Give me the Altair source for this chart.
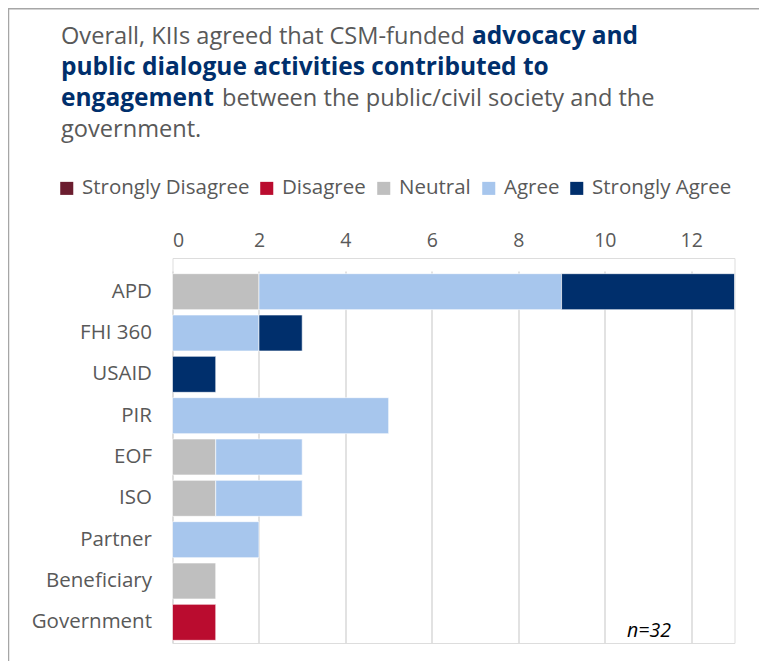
import altair as alt
import pandas as pd

categories = ["APD", "FHI 360", "USAID", "PIR", "EOF", "ISO", "Partner", "Beneficiary", "Government"]
levels = ["Strongly Disagree", "Disagree", "Neutral", "Agree", "Strongly Agree"]
colors = ["#6B1D2F", "#BA0C2F", "#BFBFBF", "#A7C6ED", "#002F6C"]

strongly_disagree = [0, 0, 0, 0, 0, 0, 0, 0, 0]
disagree = [0, 0, 0, 0, 0, 0, 0, 0, 1]
neutral = [2, 0, 0, 0, 1, 1, 0, 1, 0]
agree = [7, 2, 0, 5, 2, 2, 2, 0, 0]
strongly_agree = [4, 1, 1, 0, 0, 0, 0, 0, 0]

x_ticks = [0, 2, 4, 6, 8, 10, 12]

series = [strongly_disagree, disagree, neutral, agree, strongly_agree]
rows = []
for li, (lev, vals) in enumerate(zip(levels, series)):
    for c, v in zip(categories, vals):
        if v > 0:
            rows.append({"org": c, "level": lev, "count": v, "ord": li})
df = pd.DataFrame(rows)

FONT = "Open Sans"
GRAY = "#595959"
NAVY = "#002F6C"

W, H = 562, 385
PL, PT = 164.5, 250

bars = alt.Chart(df).mark_bar(stroke="#ffffff", strokeWidth=0.6).encode(
    y=alt.Y("org:N", sort=categories, title=None,
            scale=alt.Scale(domain=categories, range=[13, 385], paddingInner=0.13, paddingOuter=0.065),
            axis=alt.Axis(labelFontSize=20.5, labelColor=GRAY, labelPadding=21, ticks=False,
                          domain=False, grid=False, labelFont=FONT)),
    x=alt.X("sum(count):Q", title=None, stack="zero",
            scale=alt.Scale(domain=[0, 13], nice=False),
            axis=alt.Axis(orient="top", values=x_ticks, labelFontSize=19.5, labelColor=GRAY,
                          ticks=False, domain=False, grid=True, gridColor="#D9D9D9",
                          gridWidth=1.5, labelPadding=8, labelFont=FONT)),
    color=alt.Color("level:N", scale=alt.Scale(domain=levels, range=colors),
                    legend=alt.Legend(orient="none", direction="horizontal", title=None,
                                      legendX=-116, legendY=-80, symbolType="square",
                                      symbolSize=170, symbolStrokeWidth=0, labelFontSize=20.5,
                                      labelColor=GRAY, labelFont=FONT, labelOffset=5,
                                      labelLimit=400, columnPadding=7, columns=5)),
    order=alt.Order("ord:Q", sort="ascending"),
)

def txt(s, x, y, bold=False, color=GRAY, align="left", size=22, italic=False):
    kw = dict(text=s, align=align, baseline="middle", fontSize=size, font=FONT, color=color)
    if bold:
        kw["fontWeight"] = "bold"
    if italic:
        kw["fontStyle"] = "italic"
    return alt.Chart(pd.DataFrame({"a": [0]})).mark_text(**kw).encode(
        x=alt.value(x), y=alt.value(y))

def px(xp):
    return xp - 172.5
def py(yp):
    return yp - 258

TS = 23.6
BS = 24.5
title_layers = [
    txt("Overall, KIIs agreed that CSM-funded", px(61), py(37), size=TS),
    txt("advocacy and", px(472), py(37), bold=True, color=NAVY, size=BS),
    txt("public dialogue activities contributed to", px(61), py(68), bold=True, color=NAVY, size=BS),
    txt("engagement", px(61), py(99), bold=True, color=NAVY, size=BS),
    txt("between the public/civil society and the", px(222), py(99), size=TS),
    txt("government.", px(61), py(130), size=TS),
    txt("n=32", px(649), py(631), color="#000000", align="center", size=19.5, italic=True),
]

frame_v = alt.Chart(pd.DataFrame({"a": [0]})).mark_rule(color="#A6A6A6", strokeWidth=1.5).encode(
    x=alt.value(px(8.5)), y=alt.value(py(8)), y2=alt.value(py(700)))
frame_h = alt.Chart(pd.DataFrame({"a": [0]})).mark_rule(color="#A6A6A6", strokeWidth=1.5).encode(
    x=alt.value(px(8)), x2=alt.value(px(800)), y=alt.value(py(8.75)))

chart = alt.layer(bars, *title_layers, frame_v, frame_h).properties(
    width=W, height=H,
    autosize=alt.AutoSizeParams(type="none"),
    padding={"left": PL, "top": PT, "right": 751 - PL - W, "bottom": 653 - PT - H},
).configure_view(stroke=None).configure(font=FONT)

chart.save("out.html", embed_options={"renderer": "svg", "actions": False})
